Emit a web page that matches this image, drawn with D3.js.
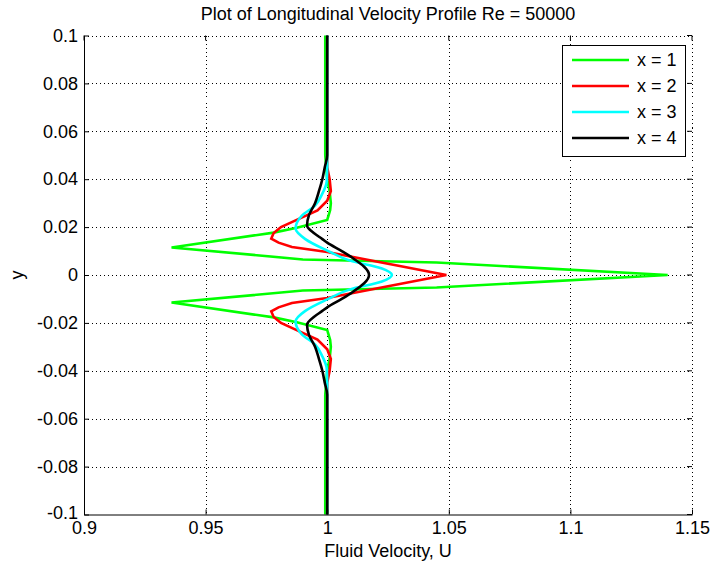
<!DOCTYPE html>
<html>
<head>
<meta charset="utf-8">
<script src="https://cdn.jsdelivr.net/npm/d3@7/dist/d3.min.js"></script>
<style>
  html, body { margin: 0; padding: 0; background: #fff; }
  svg { display: block; }
  text { font-family: "Liberation Sans", Arial, Helvetica, sans-serif; fill: #000; }
</style>
</head>
<body>
<svg id="chart" width="712" height="569"></svg>
<script>
// ---------- data ----------
const titleText = "Plot of Longitudinal Velocity Profile Re = 50000";
const xLabelText = "Fluid Velocity, U";
const yLabelText = "y";
const xTicks = [0.9, 0.95, 1, 1.05, 1.1, 1.15];
const xTickLabels = ["0.9", "0.95", "1", "1.05", "1.1", "1.15"];
const yTicks = [-0.1, -0.08, -0.06, -0.04, -0.02, 0, 0.02, 0.04, 0.06, 0.08, 0.1];
const yTickLabels = ["-0.1", "-0.08", "-0.06", "-0.04", "-0.02", "0", "0.02", "0.04", "0.06", "0.08", "0.1"];
const seriesNames = ["x = 1", "x = 2", "x = 3", "x = 4"];
const seriesColors = ["#00ff00", "#ff0000", "#00ffff", "#000000"];

// x = 1 (green)
const yX1 = [-0.1, -0.05, -0.04, -0.035, -0.03, -0.027, -0.023, -0.0197, -0.0177, -0.0115, -0.0065, -0.0052, 0,
             0.0052, 0.0065, 0.0115, 0.0177, 0.0197, 0.023, 0.027, 0.03, 0.035, 0.04, 0.05, 0.1];
const uX1 = [0.9992, 0.9992, 1.0, 1.001, 1.0015, 1.0012, 1.0, 0.9875, 0.978, 0.936, 0.99, 1.045, 1.14,
             1.045, 0.99, 0.936, 0.978, 0.9875, 1.0, 1.0012, 1.0015, 1.001, 1.0, 0.9992, 0.9992];
// x = 2 (red)
const yX2 = [-0.1, -0.045, -0.04, -0.035, -0.031, -0.027, -0.0228, -0.02, -0.0175, -0.0152, -0.0135, -0.0117, -0.0096, -0.0047, 0,
             0.0047, 0.0096, 0.0117, 0.0135, 0.0152, 0.0175, 0.02, 0.0228, 0.027, 0.031, 0.035, 0.04, 0.045, 0.1];
const uX2 = [1.0, 1.0, 1.001, 1.0015, 1.0, 0.996, 0.987, 0.981, 0.978, 0.977, 0.980, 0.9855, 1.0, 1.025, 1.049,
             1.025, 1.0, 0.9855, 0.980, 0.977, 0.978, 0.981, 0.987, 0.996, 1.0, 1.0015, 1.001, 1.0, 1.0];
// x = 3 (cyan)
const yX3 = [-0.1, -0.045, -0.039, -0.034, -0.029, -0.0248, -0.0194, -0.015, -0.0102, -0.006, -0.0027, 0,
             0.0027, 0.006, 0.0102, 0.015, 0.0194, 0.0248, 0.029, 0.034, 0.039, 0.045, 0.1];
const uX3 = [1.0, 1.0, 0.9998, 0.998, 0.995, 0.9896, 0.987, 0.991, 1.0, 1.0094, 1.0225, 1.0266,
             1.0225, 1.0094, 1.0, 0.991, 0.987, 0.9896, 0.995, 0.998, 0.9998, 1.0, 1.0];
// x = 4 (black)
const yX4 = [-0.1, -0.05, -0.045, -0.04, -0.035, -0.03, -0.025, -0.0207, -0.0175, -0.015, -0.0135, -0.01, -0.0073, 0,
             0.0073, 0.01, 0.0135, 0.015, 0.0175, 0.0207, 0.025, 0.03, 0.035, 0.04, 0.045, 0.05, 0.1];
const uX4 = [1.0, 1.0, 0.999, 0.998, 0.9966, 0.995, 0.9925, 0.9917, 0.9945, 0.998, 1.0, 1.006, 1.0102, 1.0172,
             1.0102, 1.006, 1.0, 0.998, 0.9945, 0.9917, 0.9925, 0.995, 0.9966, 0.998, 0.999, 1.0, 1.0];

// ---------- layout ----------
const svg = d3.select("#chart");
const L = 84, R = 692, T = 35.5, B = 514.5;
const x = d3.scaleLinear().domain([0.9, 1.15]).range([L, R]);
const y = d3.scaleLinear().domain([-0.1, 0.1]).range([B, T]);
const FS = 18;

svg.append("rect").attr("x", 0).attr("y", 0).attr("width", 712).attr("height", 569).attr("fill", "#fff");

// grid
const grid = svg.append("g").attr("stroke", "#000").attr("stroke-width", 1).attr("stroke-dasharray", "1,3").attr("shape-rendering", "crispEdges");
xTicks.slice(1, -1).forEach(v => {
  grid.append("line").attr("x1", Math.round(x(v)) + 0.5).attr("x2", Math.round(x(v)) + 0.5).attr("y1", T).attr("y2", B);
});
yTicks.slice(1, -1).forEach(v => {
  grid.append("line").attr("y1", Math.round(y(v)) + 0.5).attr("y2", Math.round(y(v)) + 0.5).attr("x1", L).attr("x2", R);
});
grid.append("line").attr("x1", L).attr("x2", R).attr("y1", Math.round(T) + 0.5).attr("y2", Math.round(T) + 0.5);
grid.append("line").attr("x1", Math.round(R) + 0.5).attr("x2", Math.round(R) + 0.5).attr("y1", T).attr("y2", B);

// series
const xs = [[yX1, uX1], [yX2, uX2], [yX3, uX3], [yX4, uX4]];
const curves = [d3.curveLinear, d3.curveLinear, d3.curveMonotoneY, d3.curveMonotoneY];
const plot = svg.append("g");
xs.forEach((s, i) => {
  const pts = s[0].map((yy, k) => [s[1][k], yy]);
  const line = d3.line().x(d => x(d[0])).y(d => y(d[1])).curve(curves[i]);
  plot.append("path").datum(pts).attr("d", line)
    .attr("fill", "none").attr("stroke", seriesColors[i]).attr("stroke-width", 2.6)
    .attr("stroke-linejoin", "miter");
});

// axes (left & bottom solid, ticks inward)
const xAxis = d3.axisBottom(x).tickValues(xTicks).tickFormat((d, i) => xTickLabels[i]).tickSizeInner(-5).tickSizeOuter(0).tickPadding(9);
const yAxis = d3.axisLeft(y).tickValues(yTicks).tickFormat((d, i) => yTickLabels[i]).tickSizeInner(-5).tickSizeOuter(0).tickPadding(6);
const gx = svg.append("g").attr("transform", `translate(0,${B})`).call(xAxis);
const gy = svg.append("g").attr("transform", `translate(${L},0)`).call(yAxis);
[gx, gy].forEach(g => {
  g.selectAll("path.domain").attr("stroke", "#000").attr("stroke-width", 1);
  g.selectAll(".tick line").attr("stroke", "#000");
  g.selectAll("text").attr("font-size", FS).attr("font-family", '"Liberation Sans", Arial, sans-serif').attr("fill", "#000");
});
gx.selectAll("text").attr("dy", "0.6em");
// nudge the corner label "-0.1" slightly up so it does not touch "0.9"
gy.selectAll(".tick text").filter((d, i) => i === 0).attr("dy", "0.2em");
// top / right inner ticks
const tk = svg.append("g").attr("stroke", "#000");
xTicks.forEach(v => tk.append("line").attr("x1", x(v)).attr("x2", x(v)).attr("y1", T).attr("y2", T + 5));
yTicks.forEach(v => tk.append("line").attr("y1", y(v)).attr("y2", y(v)).attr("x1", R).attr("x2", R - 5));

// labels
svg.append("text").attr("x", (L + R) / 2).attr("y", 20).attr("text-anchor", "middle").attr("font-size", FS).text(titleText);
svg.append("text").attr("x", (L + R) / 2).attr("y", 557).attr("text-anchor", "middle").attr("font-size", FS).text(xLabelText);
svg.append("text").attr("transform", `translate(23,${(T + B) / 2}) rotate(-90)`).attr("text-anchor", "middle").attr("font-size", FS).text(yLabelText);

// legend
const lg = svg.append("g");
lg.append("rect").attr("x", 562.5).attr("y", 45.5).attr("width", 123).attr("height", 111)
  .attr("fill", "#fff").attr("stroke", "#000").attr("stroke-width", 1);
const rowY = d3.scalePoint().domain(seriesNames).range([60, 138]);
seriesNames.forEach((n, i) => {
  lg.append("line").attr("x1", 572).attr("x2", 629).attr("y1", rowY(n)).attr("y2", rowY(n))
    .attr("stroke", seriesColors[i]).attr("stroke-width", 2.6);
  lg.append("text").attr("x", 637).attr("y", rowY(n)).attr("dy", "0.36em").attr("font-size", FS).text(n);
});
</script>
</body>
</html>
